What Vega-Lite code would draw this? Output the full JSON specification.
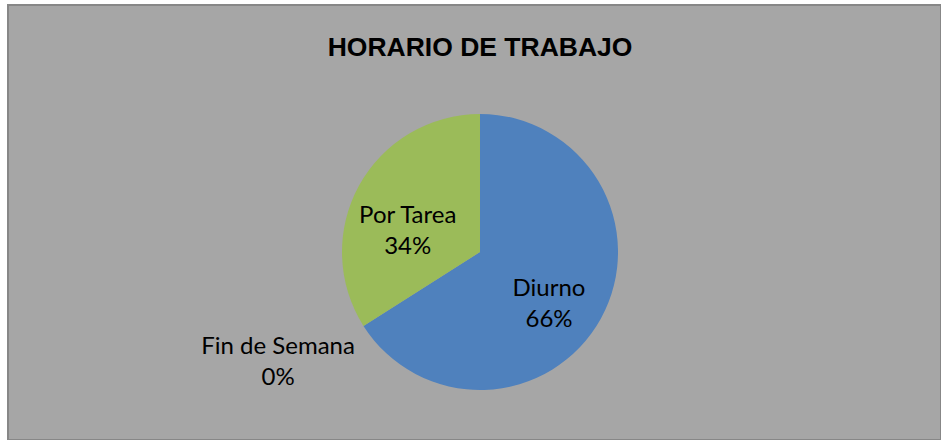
{
  "$schema": "https://vega.github.io/schema/vega-lite/v6.json",
  "width": 933,
  "height": 435,
  "autosize": {"type": "none"},
  "padding": {"left": 8, "top": 5, "right": 0, "bottom": 0},
  "background": "white",
  "view": {"fill": "#A6A6A6", "stroke": "#878787", "strokeWidth": 2},
  "title": {
    "text": "HORARIO DE TRABAJO",
    "orient": "top",
    "anchor": "middle",
    "offset": -77,
    "baseline": "alphabetic",
    "font": "Liberation Sans",
    "fontSize": 26.5,
    "fontWeight": "bold",
    "color": "black",
    "dx": 5.5
  },
  "data": {
    "values": [
      {"name": "Diurno", "share": 66, "ord": 1, "label": "Diurno\n66%"},
      {"name": "Fin de Semana", "share": 0, "ord": 2, "label": "Fin de Semana\n0%"},
      {"name": "Por Tarea", "share": 34, "ord": 3, "label": "Por Tarea\n34%"}
    ]
  },
  "encoding": {
    "theta": {"field": "share", "type": "quantitative", "stack": true},
    "order": {"field": "ord", "type": "quantitative"}
  },
  "layer": [
    {
      "mark": {"type": "arc", "outerRadius": 138, "xOffset": 5.5, "yOffset": 29.5, "stroke": null},
      "encoding": {
        "color": {
          "field": "name",
          "type": "nominal",
          "scale": {"domain": ["Diurno", "Fin de Semana", "Por Tarea"], "range": ["#4F81BD", "#C0504D", "#9BBB59"]},
          "legend": null
        }
      }
    },
    {
      "mark": {"type": "text", "radius": 87, "thetaOffset": 0.152, "xOffset": 5.5, "yOffset": 14, "font": "Lato", "fontSize": 24, "lineHeight": 31, "lineBreak": "\n", "color": "black", "baseline": "middle", "align": "center"},
      "encoding": {
        "text": {"condition": {"test": "datum.name === 'Diurno'", "field": "label"}, "value": ""}
      }
    },
    {
      "mark": {"type": "text", "radius": 75, "thetaOffset": -0.232, "xOffset": 5.5, "yOffset": 14, "font": "Lato", "fontSize": 24, "lineHeight": 31, "lineBreak": "\n", "color": "black", "baseline": "middle", "align": "center"},
      "encoding": {
        "text": {"condition": {"test": "datum.name === 'Por Tarea'", "field": "label"}, "value": ""}
      }
    },
    {
      "mark": {"type": "text", "radius": 230, "thetaOffset": 0.066, "xOffset": 5.5, "yOffset": 14, "font": "Lato", "fontSize": 24, "lineHeight": 31, "lineBreak": "\n", "color": "black", "baseline": "middle", "align": "center"},
      "encoding": {
        "text": {"condition": {"test": "datum.name === 'Fin de Semana'", "field": "label"}, "value": ""}
      }
    }
  ]
}
